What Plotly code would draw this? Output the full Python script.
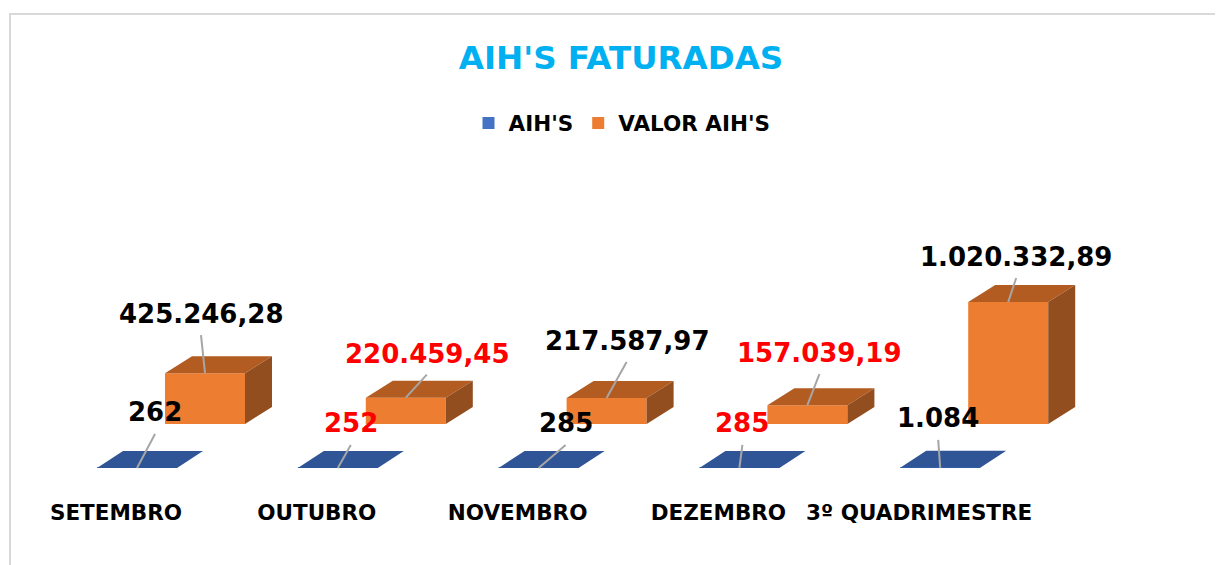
import plotly.graph_objects as go

# ---------------- data ----------------
categories = ["SETEMBRO", "OUTUBRO", "NOVEMBRO", "DEZEMBRO", "3º QUADRIMESTRE"]
aih = [262, 252, 285, 285, 1084]
valor_aih = [425246.28, 220459.45, 217587.97, 157039.19, 1020332.89]

# ---------------- styling / geometry ----------------
OFF = 8                 # page body margin
W, H = 1223 - OFF, 565 - OFF
CAT_PX = 200.8          # pixels per category step
X0_PX = 137 - OFF       # pixel x of first category (front row)
UNIT_PER_PX = 8362.8    # value units per pixel
BASE_PX = 424 - OFF     # pixel y of value 0 (back row baseline)

x_range = [-X0_PX / CAT_PX, (W - X0_PX) / CAT_PX]
y_range = [-(H - BASE_PX) * UNIT_PER_PX, BASE_PX * UNIT_PER_PX]


def ux(p):
    return p / CAT_PX


def uy(p):
    return p * UNIT_PER_PX


def paper_x(page_px):
    return (page_px - OFF) / W


def paper_y(page_px):
    return 1 - (page_px - OFF) / H


BAR_W = ux(80)
ORANGE_SHIFT = ux(68)
BLUE_BASE = -uy(44)
DEPTH_O = (ux(27), uy(17))
DEPTH_B = (ux(26), uy(17))

BLUE = "#4472C4"
BLUE_TOP = "#2F5597"
ORANGE = "#ED7D31"
ORANGE_TOP = "#B35C22"
ORANGE_SIDE = "#934E1F"
LEADER = "#A6A6A6"
LABEL_COLORS = ["black", "#FF0000", "black", "#FF0000", "black"]
FONT = "DejaVu Sans"

# label offsets in px (right, up) from bar top centre
VAL_LABEL_OFF = [(-4, 59), (21, 44), (20, 57), (12, 52), (8, 45)]
AIH_LABEL_OFF = [(18, 56), (13, 45), (27, 45), (3, 45), (-2, 50)]
LEADER_GAP = 21


def br(v, dec):
    s = f"{v:,.{dec}f}"
    return s.replace(",", "X").replace(".", ",").replace("X", ".")


n = len(categories)
xb = [i for i in range(n)]
xo = [i + ORANGE_SHIFT for i in range(n)]

fig = go.Figure()

# front faces
fig.add_trace(go.Bar(x=xb, y=aih, base=[BLUE_BASE] * n, width=BAR_W, name="AIH'S",
                     marker=dict(color=BLUE, line=dict(width=0))))
fig.add_trace(go.Bar(x=xo, y=valor_aih, base=[0] * n, width=BAR_W, name="VALOR AIH'S",
                     marker=dict(color=ORANGE, line=dict(width=0))))

# 3D faces
top_x, top_y, side_x, side_y, bt_x, bt_y = [], [], [], [], [], []
dxo, dyo = DEPTH_O
dxb, dyb = DEPTH_B
for i in range(n):
    xl, xr = xo[i] - BAR_W / 2, xo[i] + BAR_W / 2
    t = valor_aih[i]
    top_x += [xl, xl + dxo, xr + dxo, xr, xl, None]
    top_y += [t, t + dyo, t + dyo, t, t, None]
    side_x += [xr, xr, xr + dxo, xr + dxo, xr, None]
    side_y += [0, t, t + dyo, dyo, 0, None]
    bl, brr = xb[i] - BAR_W / 2, xb[i] + BAR_W / 2
    b = BLUE_BASE + aih[i]
    bt_x += [bl, bl + dxb, brr + dxb, brr, bl, None]
    bt_y += [b, b + dyb, b + dyb, b, b, None]

for fx, fy, col in [(top_x, top_y, ORANGE_TOP), (side_x, side_y, ORANGE_SIDE), (bt_x, bt_y, BLUE_TOP)]:
    fig.add_trace(go.Scatter(x=fx, y=fy, mode="lines", fill="toself", fillcolor=col,
                             line=dict(width=0, color=col), showlegend=False, hoverinfo="skip"))

# leader lines and labels
lx, ly = [], []
annotations = []
for i in range(n):
    dx, dy = VAL_LABEL_OFF[i]
    t = valor_aih[i]
    lx += [xo[i], xo[i] + ux(dx), None]
    ly += [t, t + uy(dy - LEADER_GAP), None]
    annotations.append(dict(x=xo[i], y=t, xref="x", yref="y", xshift=dx, yshift=dy,
                            text=br(valor_aih[i], 2), showarrow=False,
                            xanchor="center", yanchor="middle",
                            font=dict(family=FONT, size=26, color=LABEL_COLORS[i], weight="bold")))
    dx, dy = AIH_LABEL_OFF[i]
    b = BLUE_BASE + aih[i]
    lx += [xb[i], xb[i] + ux(dx), None]
    ly += [b, b + uy(dy - LEADER_GAP - 1), None]
    annotations.append(dict(x=xb[i], y=b, xref="x", yref="y", xshift=dx, yshift=dy,
                            text=br(aih[i], 0), showarrow=False,
                            xanchor="center", yanchor="middle",
                            font=dict(family=FONT, size=26, color=LABEL_COLORS[i], weight="bold")))

fig.add_trace(go.Scatter(x=lx, y=ly, mode="lines", line=dict(color=LEADER, width=2),
                         showlegend=False, hoverinfo="skip"))

fig.update_layout(
    width=W, height=H,
    margin=dict(l=0, r=0, t=0, b=0),
    paper_bgcolor="white", plot_bgcolor="white",
    barmode="overlay",
    hovermode=False,
    title=dict(text="AIH'S FATURADAS", x=paper_x(621), xanchor="center", y=paper_y(58), yanchor="middle",
               font=dict(family=FONT, size=32.5, color="#00B0F0", weight="bold")),
    legend=dict(orientation="h", x=paper_x(622), xanchor="center", y=paper_y(123), yanchor="middle",
                font=dict(family=FONT, size=21.5, color="black", weight="bold"),
                bgcolor="rgba(0,0,0,0)"),
    xaxis=dict(range=x_range, showgrid=False, zeroline=False, showline=False,
               tickmode="array", tickvals=[i - ux(21) for i in range(n)], ticktext=categories,
               ticks="", anchor="free", position=paper_y(497),
               tickfont=dict(family=FONT, size=21.5, color="black", weight="bold")),
    yaxis=dict(range=y_range, showgrid=False, zeroline=False, showline=False,
               showticklabels=False, domain=[0, 1]),
    annotations=annotations,
    shapes=[
        dict(type="line", xref="paper", yref="paper", x0=paper_x(9), x1=1, y0=paper_y(14), y1=paper_y(14),
             line=dict(color="#D9D9D9", width=2)),
        dict(type="line", xref="paper", yref="paper", x0=paper_x(10), x1=paper_x(10), y0=0, y1=paper_y(14),
             line=dict(color="#D9D9D9", width=2)),
    ],
)

fig.write_html("out.html")
